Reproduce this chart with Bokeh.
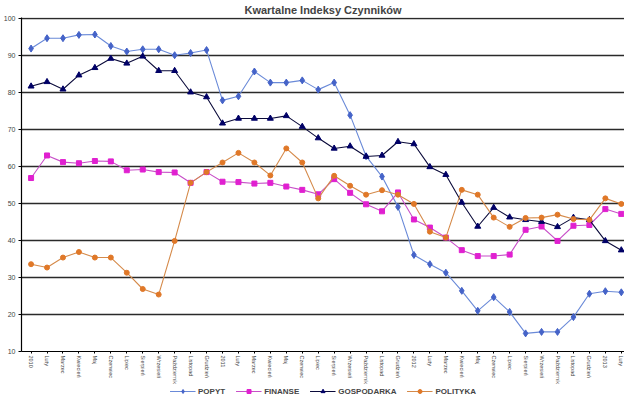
from bokeh.plotting import figure
from bokeh.layouts import column
from bokeh.models import Range1d, FixedTicker, Legend, LegendItem
from bokeh.embed import file_html
from bokeh.resources import INLINE

months = ["Luty", "Marzec", "Kwiecień", "Maj", "Czerwiec", "Lipiec", "Sierpień",
          "Wrzesień", "Październik", "Listopad", "Grudzień"]
years = ["2010", "2011", "2012", "2013"]
labels = []
for yr in years[:3]:
    labels += [yr] + months
labels += [years[3], "Luty"]

popyt = [91.9, 94.7, 94.7, 95.6, 95.7, 92.6, 91.1, 91.7, 91.7, 90.1, 90.7, 91.5,
         77.9, 79.0, 85.7, 82.7, 82.7, 83.3, 80.8, 82.7, 73.9, 62.8, 57.3, 49.1,
         36.1, 33.6, 31.3, 26.4, 21.0, 24.7, 20.7, 14.9, 15.3, 15.3, 19.3, 25.6,
         26.3, 26.0]
finanse = [56.9, 63.0, 61.2, 60.9, 61.5, 61.4, 59.0, 59.2, 58.5, 58.4, 55.6, 58.5,
           55.9, 55.8, 55.4, 55.6, 54.6, 53.7, 52.5, 56.6, 52.9, 49.8, 47.9, 53.0,
           45.7, 43.5, 40.8, 37.4, 35.8, 35.8, 36.2, 42.9, 43.8, 39.9, 44.0, 44.2,
           48.5, 47.2]
gospodarka = [81.7, 82.9, 80.9, 84.7, 86.7, 89.2, 87.9, 89.8, 85.9, 85.9, 80.1, 78.8,
              71.7, 73.0, 73.0, 73.0, 73.7, 70.8, 67.7, 64.9, 65.5, 62.7, 63.0, 66.7,
              66.1, 59.9, 57.8, 50.3, 43.8, 48.9, 46.3, 45.6, 45.1, 43.7, 46.2, 45.6,
              39.9, 37.4]
polityka = [33.6, 32.7, 35.4, 36.9, 35.4, 35.4, 31.3, 26.9, 25.4, 39.9, 55.6, 58.5,
            61.1, 63.7, 61.1, 57.6, 64.9, 61.1, 51.4, 57.5, 54.8, 52.4, 53.6, 52.4,
            49.9, 42.4, 40.8, 53.7, 52.4, 46.2, 43.7, 46.1, 46.2, 47.0, 45.8, 45.6,
            51.4, 49.9]
y_ticks = [10, 20, 30, 40, 50, 60, 70, 80, 90, 100]

xs = list(range(len(labels)))

p = figure(width=624, height=386, output_backend="svg", toolbar_location=None,
           x_range=Range1d(-0.6, 37.2), y_range=Range1d(10, 100.3),
           min_border_left=4, min_border_right=0, min_border_top=2,
           min_border_bottom=30)
p.title.text = "Kwartalne Indeksy Czynników"
p.title.align = "center"
p.title.text_font = "Liberation Sans"
p.title.text_font_size = "11px"
p.title.text_font_style = "bold"
p.title.offset = 0
p.title.standoff = 3
p.outline_line_color = None
p.background_fill_color = "white"

p.xgrid.visible = False
p.ygrid.grid_line_color = "#2a2a2a"
p.ygrid.grid_line_width = 1.4
p.ygrid.ticker = FixedTicker(ticks=y_ticks)

p.yaxis.ticker = FixedTicker(ticks=y_ticks)
p.yaxis.major_label_text_font = "Liberation Sans"
p.yaxis.major_label_text_font_size = "7px"
p.yaxis.major_label_standoff = 3
p.yaxis.major_tick_out = 3
p.yaxis.major_tick_in = 0
p.yaxis.minor_tick_line_color = None
p.yaxis.axis_line_color = "black"
p.yaxis.axis_line_width = 1.2

p.xaxis.ticker = FixedTicker(ticks=xs)
p.xaxis.major_label_overrides = {i: l for i, l in enumerate(labels)}
p.xaxis.major_label_orientation = "vertical"
p.xaxis.major_label_text_font = "Liberation Sans"
p.xaxis.major_label_text_font_size = "5.5px"
p.xaxis.major_label_standoff = 2
p.xaxis.major_tick_out = 2
p.xaxis.major_tick_in = 0
p.xaxis.minor_tick_line_color = None
p.xaxis.axis_line_color = "black"
p.xaxis.axis_line_width = 1.2

series = [
    ("POPYT", popyt, "#6a8ad8", "#4563c8", "diamond", 7),
    ("FINANSE", finanse, "#c84fc8", "#e020d0", "square", 5),
    ("GOSPODARKA", gospodarka, "#0a0a3a", "#000066", "triangle", 6),
    ("POLITYKA", polityka, "#d58a4a", "#e07828", "circle", 5),
]

# legend strip: series drawn out of its visible range, only the legend shows
leg = figure(width=624, height=14, output_backend="svg", toolbar_location=None,
             x_range=Range1d(1000, 1001), y_range=Range1d(1000, 1001),
             min_border_left=0, min_border_right=0, min_border_top=0,
             min_border_bottom=0, margin=(-2, 0, 0, 0))
leg.axis.visible = False
leg.grid.visible = False
leg.outline_line_color = None

items = []
for name, vals, lc, mc, mk, sz in series:
    p.line(xs, vals, line_color=lc, line_width=1.1)
    p.scatter(xs, vals, marker=mk, size=sz, fill_color=mc, line_color=mc)
    r1 = leg.line(xs, vals, line_color=lc, line_width=1.1)
    r2 = leg.scatter(xs, vals, marker=mk, size=sz, fill_color=mc, line_color=mc)
    items.append(LegendItem(label=name, renderers=[r1, r2]))

legend = Legend(items=items, orientation="horizontal", location="center",
                border_line_color=None, background_fill_alpha=0,
                label_text_font="Liberation Sans", label_text_font_size="8px",
                label_text_font_style="bold", glyph_width=26, glyph_height=10,
                label_standoff=3, spacing=10, padding=0, margin=0,
                label_height=10)
leg.add_layout(legend, "center")

layout = column(p, leg, spacing=0)
open("out.html", "w").write(file_html(layout, INLINE))
